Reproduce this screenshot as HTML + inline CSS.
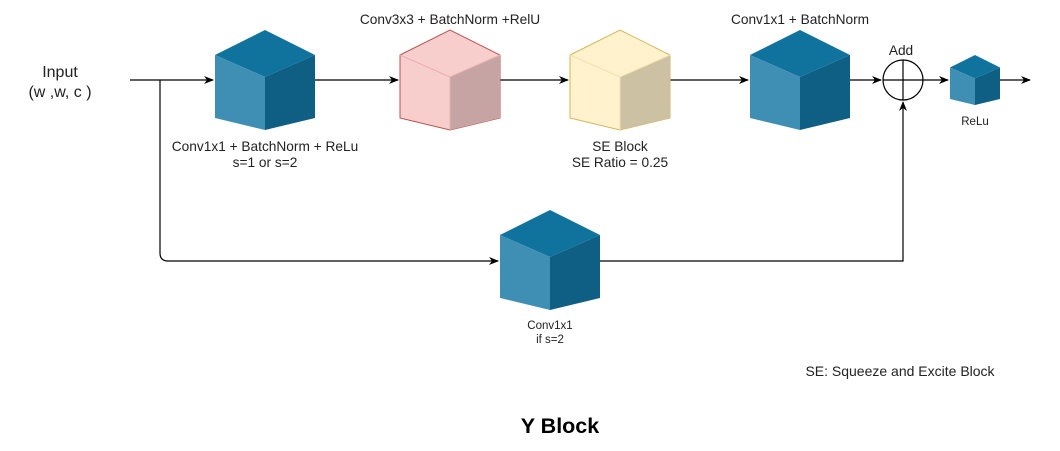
<!DOCTYPE html>
<html><head><style>
body{margin:0;background:#fff;}
svg{display:block;font-family:"Liberation Sans",Arial,sans-serif;}
</style></head><body>
<svg width="1060" height="451" viewBox="0 0 1060 451" xmlns="http://www.w3.org/2000/svg">
<defs>
<marker id="a" markerWidth="10" markerHeight="8" refX="9" refY="4" orient="auto" markerUnits="userSpaceOnUse">
<path d="M0,0 L10,4 L0,8 L3,4 Z" fill="#000"/></marker>
<g id="blue">
<polygon points="0,25 50,0 100,25 50,47" fill="#10739e"/>
<polygon points="0,25 50,47 50,100 0,88" fill="#3f8fb5"/>
<polygon points="100,25 50,47 50,100 100,88" fill="#0f5f85"/>
</g>
</defs>
<g stroke="#000" stroke-width="1.2" fill="none">
<path d="M130,80 H213" marker-end="url(#a)"/>
<path d="M315,80 H398" marker-end="url(#a)"/>
<path d="M500,80 H568" marker-end="url(#a)"/>
<path d="M670,80 H748" marker-end="url(#a)"/>
<path d="M850,80 H881" marker-end="url(#a)"/>
<path d="M923,80 H948" marker-end="url(#a)"/>
<path d="M1000,80 H1030" marker-end="url(#a)"/>
<path d="M160,80 V253 Q160,261 168,261 H498" marker-end="url(#a)"/>
<path d="M600,261 H903 V102" marker-end="url(#a)"/>
<circle cx="903" cy="80" r="20"/>
<path d="M883,80 H923 M903,60 V100"/>
</g>
<use href="#blue" x="215" y="30"/>
<use href="#blue" x="750" y="30"/>
<use href="#blue" x="500" y="210"/>
<use href="#blue" transform="translate(950,55) scale(0.5)"/>
<g stroke="#b85450" stroke-width="1">
<polygon points="400,55 450,30 500,55 500,118 450,130 400,118" fill="#f8cecc"/>
<polygon points="500,55 450,77 450,130 500,118" fill="#c6a4a3" stroke="none"/>
<path d="M400,55 L450,77 L500,55 M450,77 V130" fill="none" stroke="#e6b0ae"/>
</g>
<g stroke="#d6b656" stroke-width="1">
<polygon points="570,55 620,30 670,55 670,118 620,130 570,118" fill="#fff2cc"/>
<polygon points="670,55 620,77 620,130 670,118" fill="#ccc2a3" stroke="none"/>
<path d="M570,55 L620,77 L670,55 M620,77 V130" fill="none" stroke="#f0e2b0"/>
</g>
<g font-size="13.7" fill="#222" text-anchor="middle">
<text x="60" y="77" font-size="16">Input</text>
<text x="60" y="97" font-size="16">(w ,w, c )</text>
<text x="265" y="151">Conv1x1 + BatchNorm + ReLu</text>
<text x="265" y="167">s=1 or s=2</text>
<text x="450" y="24">Conv3x3 + BatchNorm +RelU</text>
<text x="620" y="151">SE Block</text>
<text x="620" y="167">SE Ratio = 0.25</text>
<text x="800" y="24">Conv1x1 + BatchNorm</text>
<text x="901" y="55">Add</text>
<text x="975" y="125" font-size="11.5">ReLu</text>
<text x="550" y="329" font-size="11.5">Conv1x1</text>
<text x="550" y="343" font-size="11.5">if s=2</text>
<text x="900" y="376" font-size="14">SE: Squeeze and Excite Block</text>
<text x="560" y="433" font-size="21.5" font-weight="bold" fill="#000">Y Block</text>
</g>
</svg>
</body></html>
